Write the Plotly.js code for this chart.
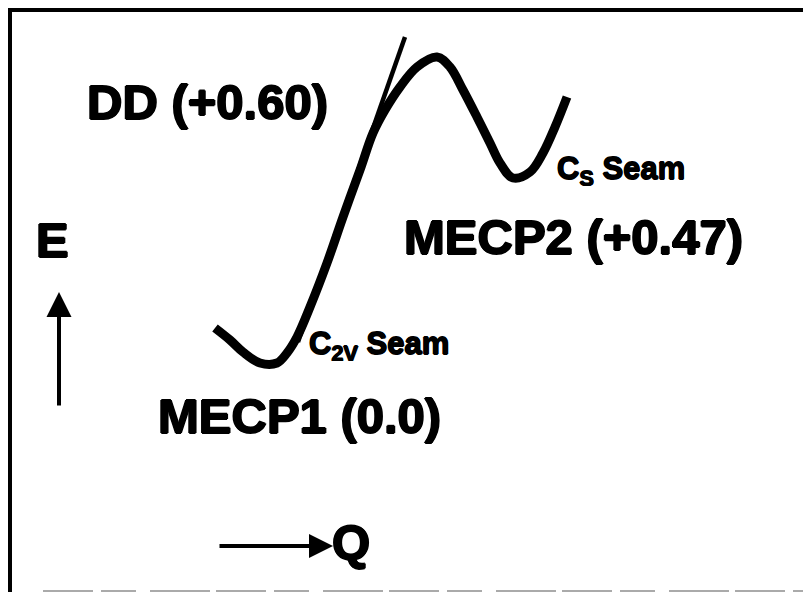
<!DOCTYPE html>
<html>
<head>
<meta charset="utf-8">
<script src="https://cdn.plot.ly/plotly-3.0.1.min.js"></script>
<style>html,body{margin:0;padding:0;background:#fff;}#chart{width:803px;height:592px;}</style>
</head>
<body>
<div id="chart"></div>
<script>
// Potential energy curve along Q (x) and E (y), in the figure's drawing units
var curveQ = [215, 230, 243, 260, 277, 287, 297, 310, 327, 343, 360, 373, 385, 400, 417, 437, 450, 463, 477, 490, 500, 513, 530, 543, 555, 567];
var curveE = [328, 340, 352, 363, 363, 353, 337, 307, 263, 217, 170, 133, 110, 87, 67, 57, 67, 90, 117, 143, 163, 178, 172, 153, 127, 97];
// Straight diabatic line through the DD region
var lineQ = [298, 405];
var lineE = [342, 37];

// Labels
var labelText = ["DD (+0.60)", "MECP2 (+0.47)", "MECP1 (0.0)", "E", "Q"];
var labelQ = [207, 573, 299, 52, 351];
var labelE = [102, 237, 416, 240, 542];
var seamText = ["C<sub>2V</sub> Seam", "C<sub>S</sub> Seam"];
var seamQ = [307, 555];
var seamE = [346, 171];

var FONT = "Liberation Sans, Arial, Helvetica, sans-serif";
var HEAVY = "1px 0 0 #000, -1px 0 0 #000, 0 1px 0 #000, 0 -1px 0 #000";
var HEAVY_S = "0.7px 0 0 #000, -0.7px 0 0 #000, 0 0.7px 0 #000, 0 -0.7px 0 #000";

var traces = [
  {x: curveQ, y: curveE, mode: "lines", line: {color: "#000", width: 9, shape: "spline", smoothing: 1}, hoverinfo: "skip"},
  {x: lineQ, y: lineE, mode: "lines", line: {color: "#000", width: 4.5}, hoverinfo: "skip"}
];

var annotations = [];
for (var i = 0; i < labelText.length; i++) {
  annotations.push({x: labelQ[i], y: labelE[i], xref: "x", yref: "y", text: labelText[i], showarrow: false,
    xanchor: "center", yanchor: "middle", font: {family: FONT, size: 49, color: "#000", weight: "bold", shadow: HEAVY}});
}
for (var j = 0; j < seamText.length; j++) {
  annotations.push({x: seamQ[j], y: seamE[j], xref: "x", yref: "y", text: seamText[j], showarrow: false,
    xanchor: "left", yanchor: "middle", font: {family: FONT, size: 31, color: "#000", weight: "bold", shadow: HEAVY_S}});
}
// Axis arrows (E up, Q right)
annotations.push({x: 59, y: 292, ax: 59, ay: 407, xref: "x", yref: "y", axref: "x", ayref: "y", text: "",
  showarrow: true, arrowhead: 2, arrowsize: 1.25, arrowwidth: 4, arrowcolor: "#000"});
annotations.push({x: 333, y: 546, ax: 218, ay: 546, xref: "x", yref: "y", axref: "x", ayref: "y", text: "",
  showarrow: true, arrowhead: 2, arrowsize: 1.2, arrowwidth: 4, arrowcolor: "#000"});

var layout = {
  width: 803, height: 592,
  margin: {l: 0, r: 0, t: 0, b: 0},
  paper_bgcolor: "#fff", plot_bgcolor: "#fff",
  showlegend: false,
  xaxis: {range: [0, 803], visible: false, fixedrange: true},
  yaxis: {range: [592, 0], visible: false, fixedrange: true},
  annotations: annotations,
  shapes: [
    {type: "line", xref: "x", yref: "y", x0: 8, x1: 803, y0: 10, y1: 10, line: {color: "#000", width: 4}},
    {type: "line", xref: "x", yref: "y", x0: 10, x1: 10, y0: 8, y1: 592, line: {color: "#000", width: 4}},
    {type: "line", xref: "x", yref: "y", x0: 43, x1: 803, y0: 591, y1: 591, line: {color: "#aaaaaa", width: 2, dash: "50px,8px,35px,14px,60px,6px"}}
  ]
};

Plotly.newPlot("chart", traces, layout, {displayModeBar: false, staticPlot: true});
</script>
</body>
</html>
